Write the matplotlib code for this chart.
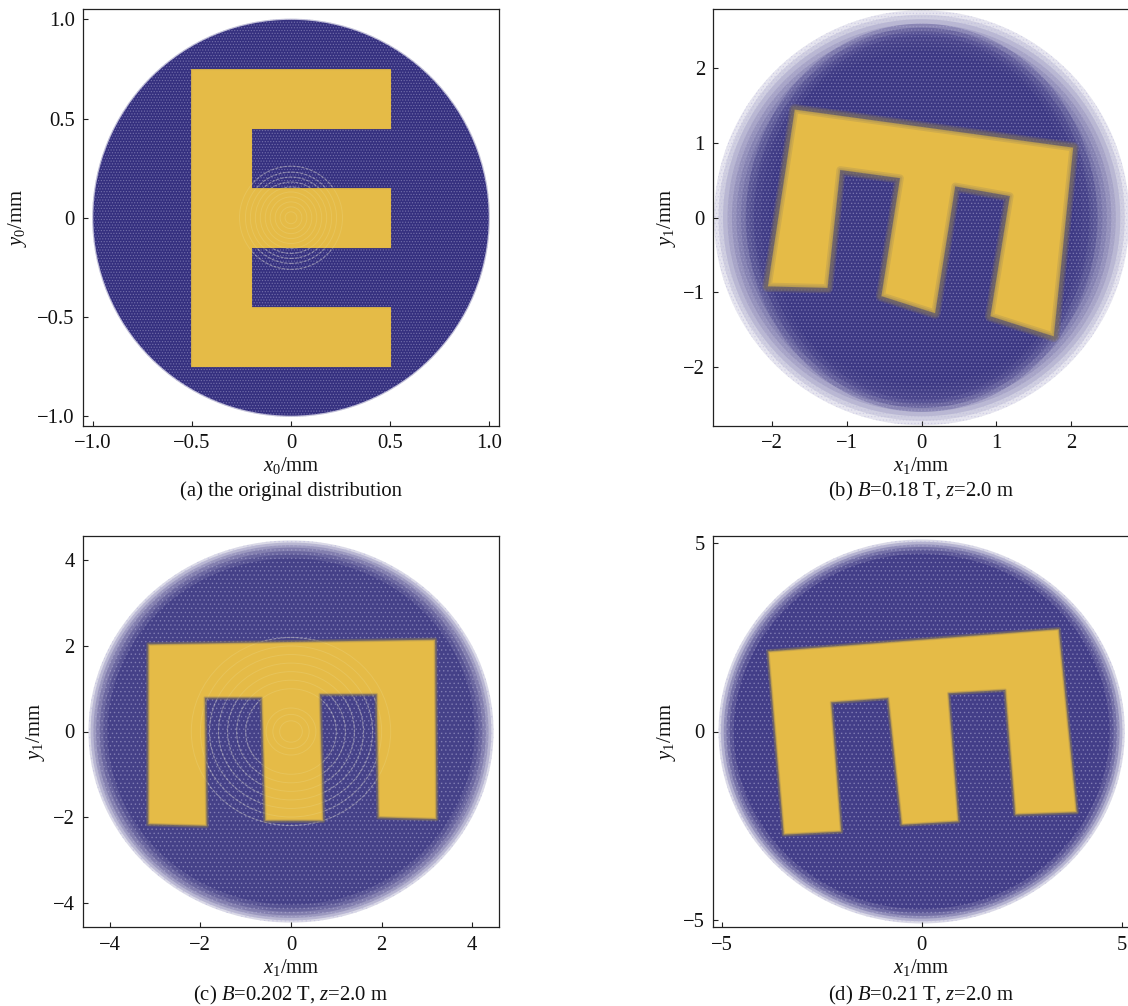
import matplotlib
matplotlib.use("Agg")
import matplotlib.pyplot as plt
from matplotlib.patches import Circle, Ellipse, Polygon

plt.rcParams['font.family'] = ['Liberation Serif', 'DejaVu Serif']
plt.rcParams['mathtext.fontset'] = 'custom'
plt.rcParams['mathtext.rm'] = 'Liberation Serif'
plt.rcParams['mathtext.it'] = 'Liberation Serif:italic'
plt.rcParams['hatch.linewidth'] = 0.6

W, H = 1128, 1006
BLUE = '#35307f'
YELLOW = '#e5bb47'
EDGE = '#7d7062'
FS = 14.9

# outlines, in mm
e_x = [-0.503, 0.507, 0.507, -0.197, -0.197, 0.507, 0.507, -0.197, -0.197, 0.507, 0.507, -0.503]
e_y = [0.75, 0.75, 0.45, 0.45, 0.15, 0.15, -0.15, -0.15, -0.45, -0.45, -0.75, -0.75]

b_x = [-1.70, 2.03, 1.77, 0.92, 1.18, 0.45, 0.18, -0.54, -0.29, -1.09, -1.26, -2.06]
b_y = [1.45, 0.94, -1.59, -1.32, 0.29, 0.42, -1.28, -1.05, 0.53, 0.64, -0.94, -0.92]

c_x = [-3.15, 3.18, 3.21, 1.93, 1.89, 0.64, 0.71, -0.57, -0.65, -1.90, -1.86, -3.15]
c_y = [2.04, 2.15, -2.05, -2.01, 0.87, 0.87, -2.09, -2.09, 0.79, 0.79, -2.21, -2.17]

d_x = [-3.84, 3.43, 3.88, 2.34, 2.09, 0.67, 0.92, -0.50, -0.84, -2.26, -2.01, -3.45]
d_y = [2.12, 2.71, -2.14, -2.20, 1.10, 1.01, -2.38, -2.47, 0.88, 0.77, -2.65, -2.73]

# beam radius with how dense the dots are out to that radius
a_radii = [1.004, 0.998]
a_alpha = [0.3, 1.0]
b_radii = [2.78, 2.72, 2.66, 2.6, 2.54, 2.48, 2.42, 2.36, 2.3, 2.24]
b_alpha = [0.12, 0.12, 0.14, 0.14, 0.16, 0.16, 0.18, 0.18, 0.2, 0.2]
c_radii = [4.47, 4.42, 4.36, 4.3, 4.22, 4.14, 4.05]
c_alpha = [0.18, 0.2, 0.22, 0.25, 0.3, 0.35, 0.5]
d_radii = [5.08, 5.02, 4.95, 4.88, 4.8, 4.7]
d_alpha = [0.18, 0.22, 0.28, 0.32, 0.4, 0.6]

# the beam in (b) is denser above and below than at the sides
b_core_widths = [4.7, 4.5, 4.3, 4.1]
b_core_heights = [5.2, 5.1, 5.0, 4.9]

# rings of the dot pattern around the axis
a_rings = [0.03, 0.055, 0.08, 0.105, 0.13, 0.155, 0.18, 0.205, 0.23, 0.26]
c_rings = [0.25, 0.4, 0.55, 1.0, 1.2, 1.4, 1.6, 1.8, 2.0, 2.2]
d_rings = []
b_rings = []

a_ticks = [-1.0, -0.5, 0, 0.5, 1.0]
a_labels = ['\u22121.0', '\u22120.5', '0', '0.5', '1.0']
b_ticks = [-2, -1, 0, 1, 2]
b_labels = ['\u22122', '\u22121', '0', '1', '2']
c_ticks = [-4, -2, 0, 2, 4]
c_labels = ['\u22124', '\u22122', '0', '2', '4']
d_ticks = [-5, 0, 5]
d_labels = ['\u22125', '0', '5']


def make_axes(fig, left, right, top, bottom):
    return fig.add_axes([left / W, 1 - bottom / H, (right - left) / W, (bottom - top) / H])


def draw_panel(ax, lims, radii, alphas, px, py, rings, fuzz, speckle, core_w=(), core_h=()):
    ax.set_xlim(lims[0], lims[1])
    ax.set_ylim(lims[2], lims[3])
    for r, al in zip(radii, alphas):
        ax.add_patch(Circle((0, 0), r, fc=BLUE, ec='none', alpha=al, zorder=1))
    for cw, ch in zip(core_w, core_h):
        ax.add_patch(Ellipse((0, 0), cw, ch, fc=BLUE, ec='none', alpha=0.25, zorder=1))
    if speckle:
        ax.add_patch(Circle((0, 0), radii[0], fc='none', ec='#b9b6dc', lw=0, hatch=speckle, alpha=0.4, zorder=2))
    # light dot rings show on the blue, only faintly through the yellow
    for r in rings:
        ax.add_patch(Circle((0, 0), r, fc='none', ec='#cfcde8', lw=0.9, ls=(0, (2, 1.5)), alpha=0.4, zorder=3))
    xy = list(zip(px, py))
    for lw in [fuzz * 1.6, fuzz * 1.2, fuzz * 0.8]:
        if lw > 0:
            ax.add_patch(Polygon(xy, closed=True, fc='none', ec=EDGE, lw=lw, alpha=0.3, joinstyle='round', zorder=4))
    ax.add_patch(Polygon(xy, closed=True, fc=YELLOW, ec='none', zorder=5))
    for r in rings:
        ax.add_patch(Circle((0, 0), r, fc='none', ec='#f2ecb0', lw=0.7, alpha=0.18, zorder=6))
    for lw in [fuzz * 1.1, fuzz * 0.6, 0.9]:
        if lw > 0:
            ax.add_patch(Polygon(xy, closed=True, fc='none', ec=EDGE, lw=lw, alpha=0.2, joinstyle='round', zorder=7))


def style_axes(ax, ticks, labels, xlabel, ylabel, ylabel_px, left, right):
    ax.set_xticks(ticks)
    ax.set_xticklabels(labels)
    ax.set_yticks(ticks)
    ax.set_yticklabels(labels)
    ax.tick_params(direction='in', length=3.5, width=0.8, labelsize=FS, color='#222222',
                   labelcolor='#111111', pad=6, top=False, right=False)
    ax.set_xlabel(xlabel, fontsize=FS, labelpad=1.5, color='#111111')
    ax.set_ylabel(ylabel, fontsize=FS, color='#111111')
    ax.yaxis.set_label_coords((ylabel_px - left) / (right - left), 0.5)
    for spine in ax.spines.values():
        spine.set_linewidth(0.9)
        spine.set_edgecolor('#222222')


def main():
    fig = plt.figure(figsize=(W / 100, H / 100), dpi=100)

    ax = make_axes(fig, 83, 499, 9.5, 426)
    draw_panel(ax, (-1.05, 1.05, -1.05, 1.05), a_radii, a_alpha, e_x, e_y, a_rings, 0, '......')
    style_axes(ax, a_ticks, a_labels, '$x_0$/mm', '$y_0$/mm', 29, 83, 499)

    ax = make_axes(fig, 713.3, 1130, 9.5, 426)
    draw_panel(ax, (-2.79, 2.79, -2.79, 2.79), b_radii, b_alpha, b_x, b_y, b_rings, 5, '.....',
               core_w=b_core_widths, core_h=b_core_heights)
    style_axes(ax, b_ticks, b_labels, '$x_1$/mm', '$y_1$/mm', 678, 713.3, 1130)

    ax = make_axes(fig, 83, 499, 535.7, 927.3)
    draw_panel(ax, (-4.59, 4.59, -4.58, 4.58), c_radii, c_alpha, c_x, c_y, c_rings, 2, '....')
    style_axes(ax, c_ticks, c_labels, '$x_1$/mm', '$y_1$/mm', 47, 83, 499)

    ax = make_axes(fig, 713.3, 1130, 535.7, 927.3)
    draw_panel(ax, (-5.21, 5.21, -5.18, 5.18), d_radii, d_alpha, d_x, d_y, d_rings, 2, '....')
    style_axes(ax, d_ticks, d_labels, '$x_1$/mm', '$y_1$/mm', 678, 713.3, 1130)

    fig.text(291 / W, 1 - 491 / H, '(a) the original distribution', fontsize=FS, ha='center', va='center', color='#111111')
    fig.text(921 / W, 1 - 491 / H, '(b) $B$=0.18 T, $z$=2.0 m', fontsize=FS, ha='center', va='center', color='#111111')
    fig.text(291 / W, 1 - 995 / H, '(c) $B$=0.202 T, $z$=2.0 m', fontsize=FS, ha='center', va='center', color='#111111')
    fig.text(921 / W, 1 - 995 / H, '(d) $B$=0.21 T, $z$=2.0 m', fontsize=FS, ha='center', va='center', color='#111111')

    fig.savefig('out.png', dpi=100)
    plt.close(fig)


if __name__ == "__main__":
    main()
